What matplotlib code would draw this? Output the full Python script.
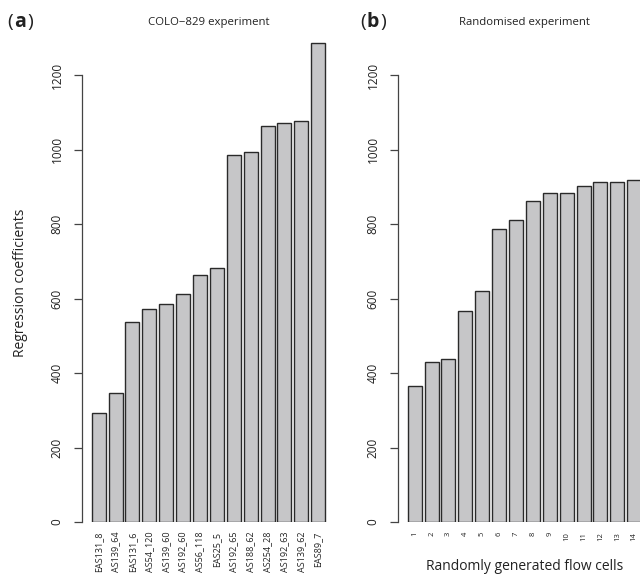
import matplotlib
matplotlib.use("Agg")
import matplotlib.pyplot as plt
import numpy as np

plt.rcParams['font.family'] = ['Open Sans', 'DejaVu Sans']

# Panel (a) - COLO-829 experiment
colo_labels = ["EAS131_8", "AS139_64", "EAS131_6", "AS54_120", "AS139_60", "AS192_60",
               "AS56_118", "EAS25_5", "AS192_65", "AS188_62", "AS254_28", "AS192_63",
               "AS139_62", "EAS89_7"]
colo_values = [293, 346, 537, 572, 585, 613, 664, 682, 986, 993, 1062, 1072, 1076, 1285]

# Panel (b) - Randomised experiment
rand_labels = [str(i) for i in range(1, 15)]
rand_values = [366, 430, 437, 567, 621, 787, 810, 861, 883, 884, 902, 912, 912, 917]

bar_fill = "#c6c6c8"
bar_edge = "#2a2a2a"
text_col = "#222222"

fig = plt.figure(figsize=(6.4, 5.77), dpi=100)

ax_y0 = 1 - 522 / 577
ax_h = (522 - 24) / 577
ax_w = (334.6 - 82.3) / 640

ax1 = fig.add_axes([82.3 / 640, ax_y0, ax_w, ax_h])
ax2 = fig.add_axes([398.3 / 640, ax_y0, ax_w, ax_h])


def barplot(ax, labels, values, lab_size):
    x = 0.7 + 1.2 * np.arange(len(values))
    ax.bar(x, values, width=1.0, color=bar_fill, edgecolor=bar_edge, linewidth=1.0)
    ax.set_xlim(-0.464, 17.464)
    ax.set_ylim(0, 1337)
    ax.set_xticks(x)
    ax.set_xticklabels(labels, rotation=90, fontsize=lab_size, color=text_col)
    ax.tick_params(axis='x', length=0, pad=7)
    ax.set_yticks([0, 200, 400, 600, 800, 1000, 1200])
    ax.set_yticklabels(["0", "200", "400", "600", "800", "1000", "1200"],
                       rotation=90, va='center', fontsize=8.5, color=text_col)
    ax.tick_params(axis='y', length=6, width=0.9, pad=7.5, color="#444444")
    for s in ['top', 'right', 'bottom']:
        ax.spines[s].set_visible(False)
    ax.spines['left'].set_bounds(0, 1200)
    ax.spines['left'].set_color("#444444")
    ax.spines['left'].set_linewidth(0.9)
    ax.patch.set_visible(False)


barplot(ax1, colo_labels, colo_values, 6.5)
barplot(ax2, rand_labels, rand_values, 5.5)

fig.text(21 / 640, 1 - 283 / 577, "Regression coefficients", fontsize=10,
         color=text_col, rotation=90, ha='center', va='center')
fig.text(524.5 / 640, 1 - 566 / 577, "Randomly generated flow cells",
         fontsize=10, color=text_col, ha='center', va='center')

ty = 1 - 22 / 577
fig.text(208.5 / 640, ty, "COLO\u2212829 experiment", fontsize=8.2, color=text_col,
         ha='center', va='center')
fig.text(524.5 / 640, ty, "Randomised experiment", fontsize=8.2, color=text_col,
         ha='center', va='center')

# panel letters: normal parentheses, bold letter
for x0, letter in [(7, "a"), (360, "b")]:
    fig.text(x0 / 640, ty, "(", fontsize=14, color=text_col, ha='left', va='center')
    fig.text((x0 + 13) / 640, ty, letter, fontsize=14, weight='bold', color=text_col,
             ha='center', va='center')
    fig.text((x0 + 26) / 640, ty, ")", fontsize=14, color=text_col, ha='right', va='center')

plt.savefig("out.png", dpi=100)
plt.close()
